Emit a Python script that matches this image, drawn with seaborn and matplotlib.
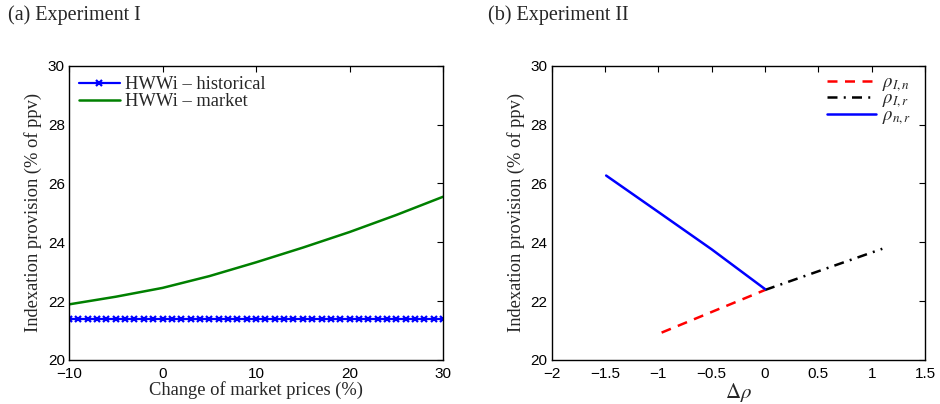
import matplotlib
matplotlib.use("Agg")
import matplotlib.pyplot as plt
import seaborn as sns
import pandas as pd

# ---- data ----
price_change = [-10, -5, 0, 5, 10, 15, 20, 25, 30]
market_vals = [21.89, 22.15, 22.45, 22.85, 23.32, 23.82, 24.35, 24.93, 25.55]

hist_x = [-10, -9, -8, -7, -6, -5, -4, -3, -2, -1, 0, 1, 2, 3, 4, 5, 6, 7, 8, 9, 10,
          11, 12, 13, 14, 15, 16, 17, 18, 19, 20, 21, 22, 23, 24, 25, 26, 27, 28, 29, 30]
hist_vals = [21.4, 21.4, 21.4, 21.4, 21.4, 21.4, 21.4, 21.4, 21.4, 21.4, 21.4,
             21.4, 21.4, 21.4, 21.4, 21.4, 21.4, 21.4, 21.4, 21.4, 21.4,
             21.4, 21.4, 21.4, 21.4, 21.4, 21.4, 21.4, 21.4, 21.4, 21.4,
             21.4, 21.4, 21.4, 21.4, 21.4, 21.4, 21.4, 21.4, 21.4, 21.4]

rho_In_x = [-0.97, 0.0]
rho_In_y = [20.93, 22.38]
rho_Ir_x = [0.0, 1.1]
rho_Ir_y = [22.38, 23.78]
rho_nr_x = [-1.49, -1.0, -0.5, 0.0]
rho_nr_y = [26.27, 25.03, 23.76, 22.41]

left_xticks = [-10, 0, 10, 20, 30]
right_xticks = [-2, -1.5, -1, -0.5, 0, 0.5, 1, 1.5]
right_xticklabels = ["\u22122", "\u22121.5", "\u22121", "\u22120.5", "0", "0.5", "1", "1.5"]
yticks = [20, 22, 24, 26, 28, 30]

# ---- style ----
sns.set_theme(style="white")
plt.rcParams["font.family"] = ["Liberation Sans", "DejaVu Sans"]
plt.rcParams["mathtext.fontset"] = "stix"
plt.rcParams["axes.unicode_minus"] = True

serif = ["Liberation Serif", "DejaVu Serif"]

fig = plt.figure(figsize=(9.4, 4.04), dpi=100)
ax1 = fig.add_axes([0.0734, 0.109, 0.398, 0.728])
ax2 = fig.add_axes([0.587, 0.109, 0.397, 0.728])

df_hist = pd.DataFrame({"x": hist_x, "y": hist_vals})
df_mkt = pd.DataFrame({"x": price_change, "y": market_vals})

sns.lineplot(data=df_hist, x="x", y="y", ax=ax1, color="#0000ff", lw=1.6,
             marker="x", markersize=4.5, markeredgewidth=1.6,
             markeredgecolor="#0000ff", label="HWWi \u2013 historical")
sns.lineplot(data=df_mkt, x="x", y="y", ax=ax1, color="#008000", lw=1.8,
             label="HWWi \u2013 market")

sns.lineplot(x=rho_In_x, y=rho_In_y, ax=ax2, color="#ff0000", lw=1.8,
             linestyle=(0, (4, 3)), label=r"$\rho_{I,n}$")
sns.lineplot(x=rho_Ir_x, y=rho_Ir_y, ax=ax2, color="#000000", lw=1.8,
             linestyle=(0, (4, 2.5, 0.8, 2.5)), label=r"$\rho_{I,r}$")
sns.lineplot(x=rho_nr_x, y=rho_nr_y, ax=ax2, color="#0000ff", lw=1.8,
             label=r"$\rho_{n,r}$")

for ax in (ax1, ax2):
    ax.set_ylim(20, 30)
    ax.set_yticks(yticks)
    ax.tick_params(direction="in", top=True, right=True, length=4, width=0.8,
                   labelsize=11, colors="black")
    ax.tick_params(axis="x", pad=5)
    ax.tick_params(axis="y", pad=3)
    for s in ax.spines.values():
        s.set_color("black")
        s.set_linewidth(1.0)
    ax.set_ylabel("Indexation provision (% of ppv)", fontsize=13.3, family=serif, labelpad=4)

ax1.set_xlim(-10, 30)
ax1.set_xticks(left_xticks)
ax1.set_xlabel("Change of market prices (%)", fontsize=13.3, family=serif, labelpad=0)

ax2.set_xlim(-2, 1.5)
ax2.set_xticks(right_xticks)
ax2.set_xticklabels(right_xticklabels)
ax2.set_xlabel(r"$\Delta\rho$", fontsize=15, labelpad=0)

leg1 = ax1.legend(loc="upper left", frameon=False, prop={"family": serif, "size": 13.3},
                  handlelength=2.2, handletextpad=0.3, labelspacing=0.0,
                  borderaxespad=0.15)
leg2 = ax2.legend(loc="upper right", bbox_to_anchor=(1.0, 1.02), frameon=False,
                  prop={"size": 13.5},
                  handlelength=2.6, handletextpad=0.3, labelspacing=-0.15,
                  borderaxespad=0.35)

fig.text(0.008, 0.962, "(a) Experiment I", fontsize=14.5, family=serif, va="center", ha="left")
fig.text(0.519, 0.962, "(b) Experiment II", fontsize=14.5, family=serif, va="center", ha="left")

fig.savefig("out.png", dpi=100, facecolor="white")
